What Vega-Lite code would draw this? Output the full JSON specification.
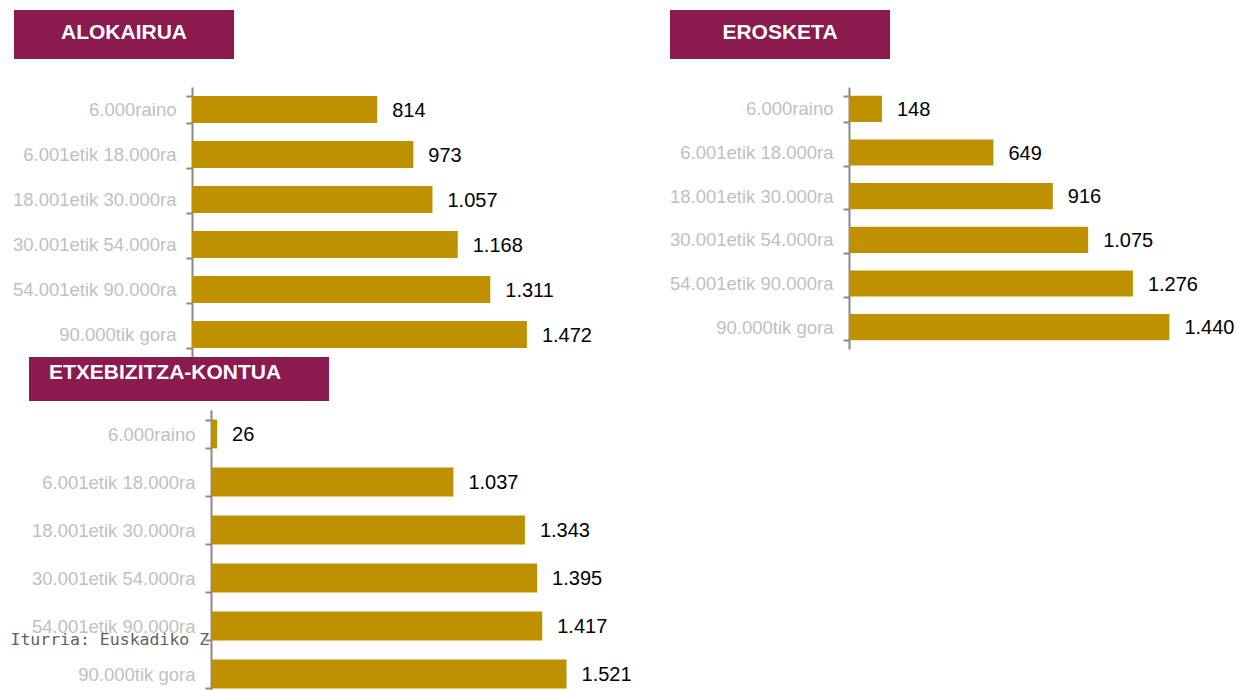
{
  "$schema": "https://vega.github.io/schema/vega-lite/v6.json",
  "padding": {"left": 10, "top": 10, "right": 0, "bottom": 0},
  "background": "white",
  "data": {
    "values": [
      {"panel": "ALOKAIRUA", "tartea": "6.000raino", "balioa": 814},
      {"panel": "ALOKAIRUA", "tartea": "6.001etik 18.000ra", "balioa": 973},
      {"panel": "ALOKAIRUA", "tartea": "18.001etik 30.000ra", "balioa": 1057},
      {"panel": "ALOKAIRUA", "tartea": "30.001etik 54.000ra", "balioa": 1168},
      {"panel": "ALOKAIRUA", "tartea": "54.001etik 90.000ra", "balioa": 1311},
      {"panel": "ALOKAIRUA", "tartea": "90.000tik gora", "balioa": 1472},
      {"panel": "EROSKETA", "tartea": "6.000raino", "balioa": 148},
      {"panel": "EROSKETA", "tartea": "6.001etik 18.000ra", "balioa": 649},
      {"panel": "EROSKETA", "tartea": "18.001etik 30.000ra", "balioa": 916},
      {"panel": "EROSKETA", "tartea": "30.001etik 54.000ra", "balioa": 1075},
      {"panel": "EROSKETA", "tartea": "54.001etik 90.000ra", "balioa": 1276},
      {"panel": "EROSKETA", "tartea": "90.000tik gora", "balioa": 1440},
      {"panel": "ETXEBIZITZA-KONTUA", "tartea": "6.000raino", "balioa": 26},
      {"panel": "ETXEBIZITZA-KONTUA", "tartea": "6.001etik 18.000ra", "balioa": 1037},
      {"panel": "ETXEBIZITZA-KONTUA", "tartea": "18.001etik 30.000ra", "balioa": 1343},
      {"panel": "ETXEBIZITZA-KONTUA", "tartea": "30.001etik 54.000ra", "balioa": 1395},
      {"panel": "ETXEBIZITZA-KONTUA", "tartea": "54.001etik 90.000ra", "balioa": 1417},
      {"panel": "ETXEBIZITZA-KONTUA", "tartea": "90.000tik gora", "balioa": 1521}
    ]
  },
  "title": {
    "text": "Iturria: Euskadiko Z",
    "orient": "bottom",
    "anchor": "start",
    "frame": "bounds",
    "offset": 0,
    "dx": -2,
    "dy": -66,
    "font": "DejaVu Sans Mono",
    "fontSize": 16.5,
    "fontWeight": "normal",
    "color": "#5F5F5F"
  },
  "config": {
    "view": {"stroke": null},
    "font": "Liberation Sans",
    "locale": {"number": {"decimal": ",", "thousands": ".", "grouping": [3], "currency": ["", " €"]}},
    "axisY": {
      "title": null,
      "domainColor": "#898989",
      "domainWidth": 2,
      "tickColor": "#898989",
      "tickWidth": 2,
      "tickSize": 6,
      "tickBand": "extent",
      "labelColor": "#BFBFBF",
      "labelFontSize": 18.5,
      "labelFont": "Liberation Sans",
      "labelPadding": 10
    }
  },
  "spacing": -2,
  "vconcat": [
    {
      "spacing": 77,
      "hconcat": [
        {
          "spacing": 19,
          "vconcat": [
            {
              "width": 220, "height": 49,
              "view": {"fill": "#8B1A4F", "stroke": null},
              "data": {"values": [{"izenburua": "ALOKAIRUA"}]},
              "mark": {"type": "text", "color": "white", "fontWeight": "bold", "fontSize": 21, "font": "Liberation Sans", "align": "center", "baseline": "middle", "dy": -2},
              "encoding": {"text": {"field": "izenburua"}}
            },
            {
              "width": 542, "height": 270,
              "transform": [{"filter": "datum.panel === 'ALOKAIRUA'"}],
              "encoding": {
                "y": {"field": "tartea", "type": "nominal", "sort": null, "scale": {"paddingInner": 0.4, "paddingOuter": 0.2}, "axis": {"offset": -178}},
                "x": {"field": "balioa", "type": "quantitative", "scale": {"domain": [0, 1600], "range": [178, 542], "nice": false}, "axis": null}
              },
              "layer": [
                {"mark": {"type": "bar", "color": "#BF9000"}},
                {"mark": {"type": "text", "align": "left", "baseline": "middle", "dx": 15, "dy": 1, "fontSize": 20, "font": "Liberation Sans", "color": "black"},
                 "encoding": {"text": {"field": "balioa", "type": "quantitative", "format": ",d"}}}
              ]
            }
          ]
        },
        {
          "spacing": 19,
          "vconcat": [
            {
              "width": 220, "height": 49,
              "view": {"fill": "#8B1A4F", "stroke": null},
              "data": {"values": [{"izenburua": "EROSKETA"}]},
              "mark": {"type": "text", "color": "white", "fontWeight": "bold", "fontSize": 21, "font": "Liberation Sans", "align": "center", "baseline": "middle", "dy": -2},
              "encoding": {"text": {"field": "izenburua"}}
            },
            {
              "width": 535, "height": 262,
              "transform": [{"filter": "datum.panel === 'EROSKETA'"}],
              "encoding": {
                "y": {"field": "tartea", "type": "nominal", "sort": null, "scale": {"paddingInner": 0.4, "paddingOuter": 0.2}, "axis": {"offset": -179}},
                "x": {"field": "balioa", "type": "quantitative", "scale": {"domain": [0, 1600], "range": [179, 535], "nice": false}, "axis": null}
              },
              "layer": [
                {"mark": {"type": "bar", "color": "#BF9000"}},
                {"mark": {"type": "text", "align": "left", "baseline": "middle", "dx": 15, "dy": 1, "fontSize": 20, "font": "Liberation Sans", "color": "black"},
                 "encoding": {"text": {"field": "balioa", "type": "quantitative", "format": ",d"}}}
              ]
            }
          ]
        }
      ]
    },
    {
      "spacing": 14,
      "hconcat": [
        {
          "width": 1, "height": 1,
          "data": {"values": [{"hutsik": ""}]},
          "mark": {"type": "rect", "opacity": 0},
          "encoding": {}
        },
        {
          "spacing": 0,
          "vconcat": [
            {
              "width": 300, "height": 44,
              "view": {"fill": "#8B1A4F", "stroke": null},
              "data": {"values": [{"izenburua": "ETXEBIZITZA-KONTUA"}]},
              "mark": {"type": "text", "color": "white", "fontWeight": "bold", "fontSize": 21, "font": "Liberation Sans", "align": "left", "baseline": "middle", "dx": -130, "dy": -6},
              "encoding": {"text": {"field": "izenburua"}}
            },
            {
              "width": 556, "height": 288,
              "transform": [{"filter": "datum.panel === 'ETXEBIZITZA-KONTUA'"}],
              "encoding": {
                "y": {"field": "tartea", "type": "nominal", "sort": null, "scale": {"paddingInner": 0.4, "paddingOuter": 0.2}, "axis": {"offset": -182}},
                "x": {"field": "balioa", "type": "quantitative", "scale": {"domain": [0, 1600], "range": [182, 556], "nice": false}, "axis": null}
              },
              "layer": [
                {"mark": {"type": "bar", "color": "#BF9000"}},
                {"mark": {"type": "text", "align": "left", "baseline": "middle", "dx": 15, "dy": 1, "fontSize": 20, "font": "Liberation Sans", "color": "black"},
                 "encoding": {"text": {"field": "balioa", "type": "quantitative", "format": ",d"}}}
              ]
            }
          ]
        }
      ]
    }
  ]
}
